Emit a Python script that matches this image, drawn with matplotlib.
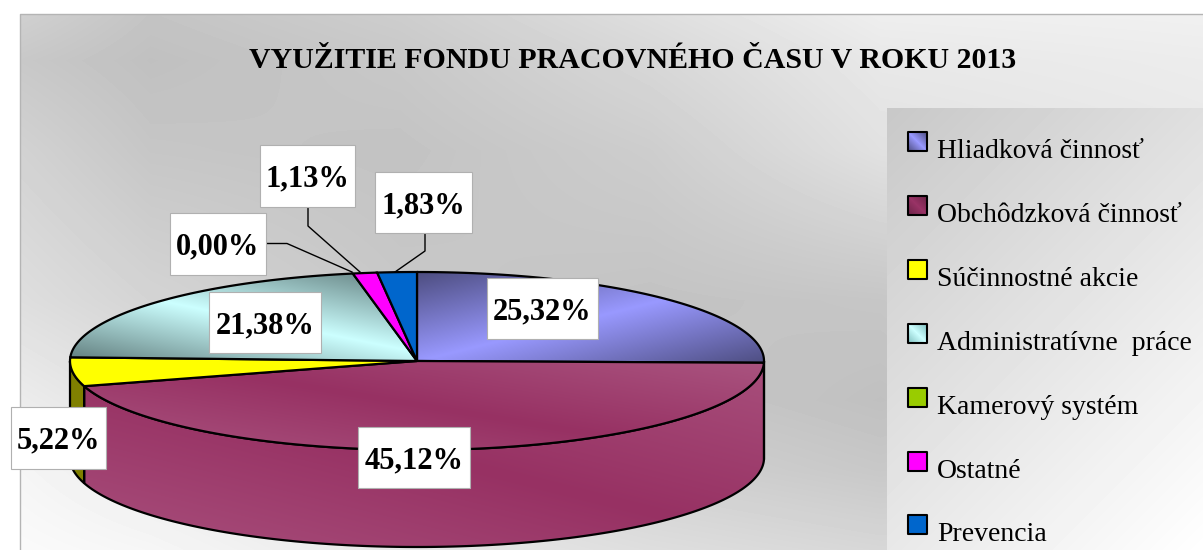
import numpy as np
import matplotlib
matplotlib.use("Agg")
import matplotlib.pyplot as plt
from matplotlib.patches import Polygon, Rectangle
from matplotlib.colors import to_rgb

# Data
title = "VYUŽITIE FONDU PRACOVNÉHO ČASU V ROKU 2013"
categories = ["Hliadková činnosť", "Obchôdzková činnosť", "Súčinnostné akcie",
              "Administratívne  práce", "Kamerový systém", "Ostatné", "Prevencia"]
# order in which the slices go round the pie
values = [25.32, 45.12, 5.22, 21.38, 0.00, 1.13, 1.83]
colors = ["#9999ff", "#993366", "#ffff00", "#ccffff", "#99cc00", "#ff00ff", "#0066cc"]
side_colors = ["#4d4d80", "#993366", "#808000", "#668080", "#4d6600", "#800080", "#003366"]

# Pie geometry in pixels
cx, cy, rx, ry, depth = 417, 361, 347, 89, 97

# label boxes: left, top, right, bottom
boxes = [(487, 278, 598, 339), (358, 427, 470, 488), (11, 407, 106, 469),
         (209, 292, 321, 353), (170, 213, 266, 275), (260, 145, 355, 207),
         (375, 172, 472, 233)]
leaders = {4: [(267, 243.5), (287, 243.5), (352, 272)],
           5: [(308, 207), (308, 226), (360, 272)],
           6: [(425, 233), (425, 251), (395, 272)]}

plt.rcParams["font.family"] = ["Liberation Serif", "DejaVu Serif"]

fig = plt.figure(figsize=(12.03, 5.5), dpi=100)
ax = fig.add_axes([0, 0, 1, 1])
ax.set_xlim(0, 1203)
ax.set_ylim(550, 0)
ax.axis("off")


def grey_field(x0, x1, y0, y1, xs, ys, grid):
    # smooth grey background from a few sampled levels
    X = np.arange(x0, x1)
    Y = np.arange(y0, y1)
    rows = np.array([np.interp(X, xs, row) for row in grid])
    img = np.array([np.interp(Y, ys, rows[:, i]) for i in range(len(X))]).T
    ax.imshow(img / 255, cmap="gray", vmin=0, vmax=1, extent=(x0, x1, y1, y0),
              aspect="auto", zorder=1, interpolation="bilinear")


def shaded(points, edge, mid, direction, zorder, lw=1.6):
    # fill polygon with a three stop gradient, mid colour in the centre
    pts = np.array(points)
    x0, y0 = np.floor(pts.min(axis=0))
    x1, y1 = np.ceil(pts.max(axis=0)) + 1
    X, Y = np.meshgrid(np.arange(x0, x1), np.arange(y0, y1))
    t = (X - x0) * direction[0] + (Y - y0) * direction[1]
    t = (t - t.min()) / max(t.max() - t.min(), 1)
    k = np.abs(2 * t - 1)[..., None]
    img = np.array(to_rgb(mid)) * (1 - k) + np.array(to_rgb(edge)) * k
    im = ax.imshow(img, extent=(x0, x1, y1, y0), aspect="auto", zorder=zorder)
    patch = Polygon(pts, closed=True, fc="none", ec="black", lw=lw, zorder=zorder + 0.1,
                    joinstyle="round")
    ax.add_patch(patch)
    im.set_clip_path(patch)


def rim(a):
    a = np.radians(a)
    return cx + rx * np.sin(a), cy - ry * np.cos(a)


# Background of the chart area
grey_field(20, 1203, 14, 550,
           [20, 150, 400, 650, 880, 1203],
           [14, 60, 150, 300, 400, 470, 550],
           [[208, 196, 205, 222, 238, 240],
            [200, 192, 200, 215, 232, 236],
            [210, 198, 195, 205, 225, 232],
            [222, 212, 200, 195, 198, 215],
            [236, 225, 212, 200, 192, 205],
            [245, 236, 222, 208, 200, 210],
            [250, 246, 232, 222, 215, 220]])
ax.plot([20, 20, 1203], [550, 14, 14], color="#b4b4b4", lw=1, zorder=1.5)

# Legend box
lx0, ly0 = 887, 108
X, Y = np.meshgrid(np.arange(lx0, 1203), np.arange(ly0, 550))
t = ((X - lx0) + (Y - ly0)) / ((1203 - lx0) + (550 - ly0))
ax.imshow((200 + 55 * t) / 255, cmap="gray", vmin=0, vmax=1,
          extent=(lx0, 1203, 550, ly0), aspect="auto", zorder=2)

baselines = [158, 222, 286, 350, 414, 478, 541]
for i, name in enumerate(categories):
    top = baselines[i] - 26
    sq = [(908, top), (927, top), (927, top + 19), (908, top + 19)]
    edge = "#4d4d80" if i == 0 else "#6b2447" if i == 1 else "#80c0c0" if i == 3 else colors[i]
    shaded(sq, edge, colors[i], (1, -1), 3, lw=1.5)
    ax.text(937, baselines[i], name, fontsize=20, color="black", va="baseline",
            ha="left", zorder=4)

# Side wall, only the front half is seen
edges = np.concatenate([[0], np.cumsum(values)]) * 3.6
for i in range(len(values)):
    a0, a1 = max(edges[i], 90), min(edges[i + 1], 270)
    if a1 <= a0:
        continue
    ang = np.linspace(a0, a1, 200)
    xs, ys = rim(ang)
    pts = list(zip(xs, ys)) + list(zip(xs[::-1], ys[::-1] + depth))
    if i == 1:
        shaded(pts, "#a84f7c", "#973163", (-1, 4), 5)
    else:
        ax.add_patch(Polygon(pts, closed=True, fc=side_colors[i], ec="black", lw=1.6, zorder=5))

# Top of the pie
top_styles = {0: ("#4d4d80", "#9999ff", (1, 4)),
              1: ("#aa5480", "#973163", (-1, 6)),
              3: ("#5f7b7b", "#ccffff", (-1, 5))}
for i in range(len(values)):
    if values[i] == 0:
        continue
    ang = np.linspace(edges[i], edges[i + 1], 200)
    xs, ys = rim(ang)
    pts = [(cx, cy)] + list(zip(xs, ys))
    if i in top_styles:
        edge, mid, d = top_styles[i]
        shaded(pts, edge, mid, d, 6 + i * 0.2)
    else:
        ax.add_patch(Polygon(pts, closed=True, fc=colors[i], ec="black", lw=1.6, zorder=6 + i * 0.2))

# Leader lines
for i, line in leaders.items():
    ax.plot([p[0] for p in line], [p[1] for p in line], color="black", lw=1, zorder=8)

# Value labels
for i, v in enumerate(values):
    x0, y0, x1, y1 = boxes[i]
    ax.add_patch(Rectangle((x0, y0), x1 - x0, y1 - y0, fc="white", ec="#b0b0b0", lw=0.8, zorder=9))
    ax.text((x0 + x1) / 2, (y0 + y1) / 2 + 3, f"{v:.2f}%".replace(".", ","), fontsize=22,
            fontweight="bold", ha="center", va="center", zorder=10)

ax.text(633, 60, title, fontsize=21.5, fontweight="bold", ha="center", va="center", zorder=4)

fig.savefig("out.png", dpi=100)
